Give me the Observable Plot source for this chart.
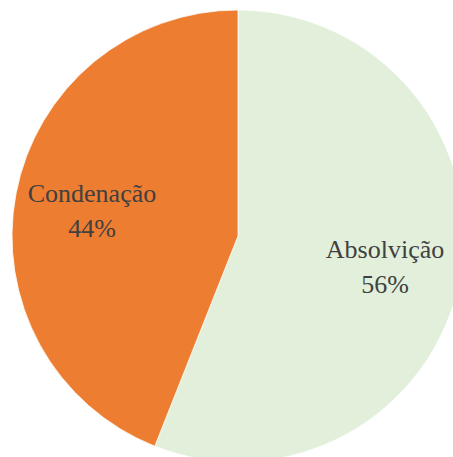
<!DOCTYPE html>
<html>
<head>
<meta charset="utf-8">
<script src="https://cdn.jsdelivr.net/npm/d3@7"></script>
<script src="https://cdn.jsdelivr.net/npm/@observablehq/plot@0.6"></script>
<style>
  html, body { margin: 0; padding: 0; background: #fff; overflow: hidden; }
  .lbl text, .lbl { font-family: "Liberation Serif", "Times New Roman", "DejaVu Serif", serif !important; }
</style>
</head>
<body>
<div id="chart"></div>
<script>
// Data (drawn clockwise from 12 o'clock, like the original)
const categories = ["Absolvição", "Condenação"];
const values = [56, 44];
const percentLabels = ["56%", "44%"];
const sliceColors = ["#E2EFDA", "#ED7D31"];

const rows = categories.map((c, i) => ({category: c, value: values[i], pct: percentLabels[i]}));

const color = Plot.scale({color: {type: "ordinal", domain: categories, range: sliceColors}});

const arcs = d3.pie().sort(null).value(d => d.value)(rows);

// label anchor at ~0.66 of the radius, along the middle angle of each slice
const labelRadius = 0.66;
const labelRows = arcs.map(a => {
  const mid = (a.startAngle + a.endAngle) / 2;
  return {
    x: labelRadius * Math.sin(mid),
    y: labelRadius * Math.cos(mid),
    text: a.data.category + "\n" + a.data.pct
  };
});

function slices(index, scales, values, dimensions, context) {
  const x = scales.x, y = scales.y;
  const cx = x(0), cy = y(0), r = x(1) - x(0);
  const arc = d3.arc().innerRadius(0).outerRadius(r);
  const g = d3.create("svg:g").attr("transform", `translate(${cx},${cy})`);
  g.selectAll("path")
    .data(arcs)
    .join("path")
    .attr("d", arc)
    .attr("fill", d => color.apply(d.data.category))
    .attr("stroke", "#ffffff")
    .attr("stroke-width", 0.75);
  return g.node();
}

const chart = Plot.plot({
  width: 453,
  height: 457,
  margin: 0,
  style: {overflow: "hidden", background: "#fff"},
  x: {domain: [-1, 1], range: [12, 464], axis: null},
  y: {domain: [-1, 1], range: [462, 10], axis: null},
  marks: [
    slices,
    Plot.text(labelRows, {
      x: "x",
      y: "y",
      text: "text",
      className: "lbl",
      fontFamily: "Liberation Serif",
      fontSize: 26,
      lineHeight: 1.35,
      fill: "#404040",
      textAnchor: "middle"
    })
  ]
});

document.getElementById("chart").appendChild(chart);
</script>
</body>
</html>
